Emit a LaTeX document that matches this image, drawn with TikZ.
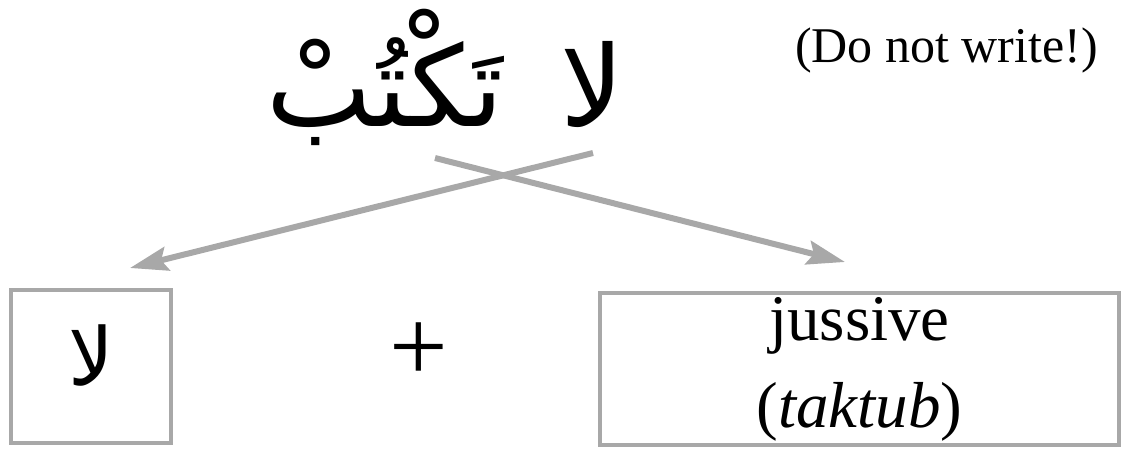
\documentclass[tikz,border=0pt]{standalone}
\usepackage{fontspec}
\setmainfont{Liberation Serif}
\newfontfamily\arabicfont[Script=Arabic]{DejaVu Sans}
\TeXXeTstate=1
\usetikzlibrary{arrows.meta,positioning}

\definecolor{linkgray}{HTML}{A8A8A8}

\tikzset{
  wordbox/.style={draw=linkgray,line width=4pt,inner sep=0pt},
  link/.style={draw=linkgray,line width=6pt,-{Stealth[length=38pt,width=24pt,inset=6pt]}},
  arab/.style={font=\arabicfont\fontsize{#1}{#1}\selectfont,inner sep=0pt}
}

\begin{document}
\begin{tikzpicture}[x=1pt,y=-1pt]
\useasboundingbox (0,0) rectangle (1127,449);
% the prohibition
\node[arab=112pt,anchor=base] (neg) at (592,127) {\beginR لا\endR};
\node[arab=112pt,anchor=base] (verb) at (385,127) {\beginR تَكْتُبْ\endR};
\node[font=\fontsize{50}{58}\selectfont,anchor=base east,inner sep=0pt] (gloss) at (1098,63) {(Do not write!)};
% its parts
\node[wordbox,minimum width=160pt,minimum height=153pt] (negbox) at (91,366.5) {};
\node[arab=80pt] (negpart) at (91,355) {\beginR لا\endR};
\node[font=\fontsize{104}{104}\selectfont,inner sep=0pt] (plus) at (419,352) {+};
\node[wordbox,minimum width=519pt,minimum height=152pt,align=center,
  font=\fontsize{65}{87}\selectfont] (jussive) at (859.5,369) {jussive\\(\textit{taktub})};
% crossing links
\coordinate (negfoot) at (593,153);
\coordinate (verbfoot) at (435,158);
\coordinate (negin) at (130,268);
\coordinate (jussivein) at (845,262);
\draw[link] (negfoot) -- (negin);
\draw[link] (verbfoot) -- (jussivein);
\end{tikzpicture}
\end{document}
